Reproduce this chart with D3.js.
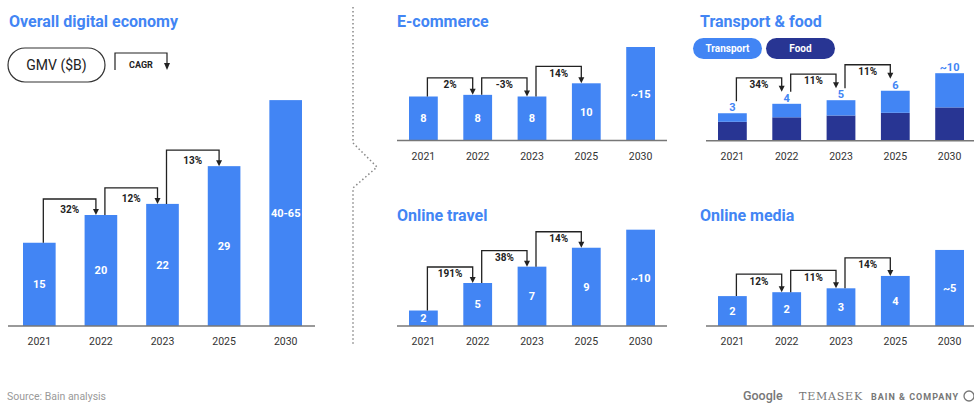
<!DOCTYPE html>
<html>
<head>
<meta charset="utf-8">
<script src="https://cdn.jsdelivr.net/npm/d3@7"></script>
<style>
  body { margin: 0; background: #fff; }
  svg { display: block; font-family: Roboto, "Open Sans", sans-serif; }
</style>
</head>
<body>
<svg id="chart" width="974" height="405"></svg>
<script>
// data (bar heights)
const years = ["2021", "2022", "2023", "2025", "2030"];

const overallValues = [15, 20, 22, 28.8, 40.7];
const overallLabels = ["15", "20", "22", "29", "40-65"];
const overallCagr = ["32%", "12%", "13%"];

const ecomValues = [8.0, 8.3, 8.0, 10.4, 17.0];
const ecomLabels = ["8", "8", "8", "10", "~15"];
const ecomCagr = ["2%", "-3%", "14%"];

const foodValues = [2.1, 2.6, 2.8, 3.1, 3.7];
const transportValues = [0.95, 1.5, 1.7, 2.45, 3.8];
const transportFoodLabels = ["3", "4", "5", "6", "~10"];
const transportFoodCagr = ["34%", "11%", "11%"];

const travelValues = [1.8, 5.0, 6.9, 9.1, 11.2];
const travelLabels = ["2", "5", "7", "9", "~10"];
const travelCagr = ["191%", "38%", "14%"];

const mediaValues = [2.3, 2.6, 2.9, 3.85, 5.85];
const mediaLabels = ["2", "2", "3", "4", "~5"];
const mediaCagr = ["12%", "11%", "14%"];

const blue = "#4285f4", navy = "#283593", ink = "#222";

const svg = d3.select("#chart");

function drawPanel(c) {
  const g = svg.append("g");

  const x = d3.scaleBand().domain(years).range([c.x0, c.x1])
      .paddingInner(0.47).paddingOuter(0);
  const y = d3.scaleLinear().domain([0, c.max]).range([c.base, c.top]);

  g.append("text")
      .attr("x", c.titleX).attr("y", c.titleY)
      .attr("fill", blue).attr("font-size", 16).attr("font-weight", 700)
      .text(c.title);

  let totals;
  if (c.stack) {
    const rows = years.map((yr, i) => ({year: yr, food: foodValues[i], transport: transportValues[i]}));
    const series = d3.stack().keys(["food", "transport"])(rows);
    g.selectAll("g.layer").data(series).join("g")
        .attr("fill", d => d.key === "food" ? navy : blue)
      .selectAll("rect").data(d => d).join("rect")
        .attr("x", d => x(d.data.year))
        .attr("y", d => y(d[1]))
        .attr("width", x.bandwidth())
        .attr("height", d => y(d[0]) - y(d[1]));
    totals = rows.map(r => r.food + r.transport);

    g.selectAll("text.top").data(years).join("text")
        .attr("x", d => x(d) + x.bandwidth() / 2)
        .attr("y", (d, i) => y(totals[i]) - 2)
        .attr("text-anchor", "middle")
        .attr("fill", blue).attr("font-size", 11).attr("font-weight", 700)
        .text((d, i) => c.labels[i]);
  } else {
    totals = c.values;
    g.selectAll("rect").data(years).join("rect")
        .attr("x", d => x(d))
        .attr("y", (d, i) => y(c.values[i]))
        .attr("width", x.bandwidth())
        .attr("height", (d, i) => y(0) - y(c.values[i]))
        .attr("fill", blue);

    g.selectAll("text.val").data(years).join("text")
        .attr("x", d => x(d) + x.bandwidth() / 2)
        .attr("y", (d, i) => (y(c.values[i]) + y(0)) / 2)
        .attr("dy", "0.35em")
        .attr("text-anchor", "middle")
        .attr("fill", "#fff").attr("font-size", 11).attr("font-weight", 700)
        .text((d, i) => c.labels[i]);
  }

  // baseline
  g.append("line")
      .attr("x1", c.axisX0).attr("x2", c.axisX1)
      .attr("y1", y(0)).attr("y2", y(0))
      .attr("stroke", "#777").attr("stroke-width", 1.5);

  const axis = g.append("g")
      .attr("transform", `translate(0,${y(0)})`)
      .call(d3.axisBottom(x).tickSize(0).tickPadding(12));
  axis.select(".domain").remove();
  axis.selectAll("text")
      .attr("font-family", "Roboto, sans-serif")
      .attr("font-size", 10.5).attr("fill", "#333");

  // CAGR connectors
  for (let i = 0; i < c.cagr.length; i++) {
    const a = years[i], b = years[i + 1];
    const sx = x(a) + x.bandwidth() / 2 + 4;
    const ex = x(b) + x.bandwidth() / 2 - 5;
    const sy = y(totals[i]) - c.gap;
    const ey = y(totals[i + 1]) - c.gap;
    const hy = Math.min(y(totals[i]), y(totals[i + 1])) - c.rise;
    g.append("path")
        .attr("d", `M${sx},${sy}V${hy}H${ex}V${ey - 5}`)
        .attr("fill", "none").attr("stroke", ink).attr("stroke-width", 1.3);
    g.append("path")
        .attr("d", `M${ex - 3},${ey - 6}L${ex + 3},${ey - 6}L${ex},${ey}Z`)
        .attr("fill", ink);
    g.append("text")
        .attr("x", (sx + ex) / 2).attr("y", hy + c.labelDy)
        .attr("text-anchor", "middle")
        .attr("fill", ink).attr("font-size", 10).attr("font-weight", 700)
        .text(c.cagr[i]);
  }
}

drawPanel({title: "Overall digital economy", titleX: 9, titleY: 27,
  values: overallValues, labels: overallLabels, cagr: overallCagr,
  x0: 23, x1: 302, base: 326, max: 45, top: 326 - 45 * 5.55,
  axisX0: 8, axisX1: 315, rise: 16, gap: 0, labelDy: 14});

drawPanel({title: "E-commerce", titleX: 397, titleY: 27,
  values: ecomValues, labels: ecomLabels, cagr: ecomCagr,
  x0: 409, x1: 655, base: 140.5, max: 20, top: 140.5 - 20 * 5.5,
  axisX0: 397, axisX1: 667, rise: 17, gap: 0, labelDy: 10.5});

drawPanel({title: "Transport & food", titleX: 700, titleY: 27, stack: true,
  labels: transportFoodLabels, cagr: transportFoodCagr,
  x0: 718, x1: 964, base: 140.7, max: 10, top: 140.7 - 10 * 9,
  axisX0: 706, axisX1: 974, rise: 26, gap: 12, labelDy: 10});

drawPanel({title: "Online travel", titleX: 397, titleY: 220.5,
  values: travelValues, labels: travelLabels, cagr: travelCagr,
  x0: 409, x1: 655, base: 326, max: 12, top: 326 - 12 * 8.6,
  axisX0: 397, axisX1: 667, rise: 16, gap: 0, labelDy: 10});

drawPanel({title: "Online media", titleX: 700, titleY: 220.5,
  values: mediaValues, labels: mediaLabels, cagr: mediaCagr,
  x0: 718, x1: 964, base: 326, max: 8, top: 326 - 8 * 13,
  axisX0: 706, axisX1: 974, rise: 18, gap: 0, labelDy: 10.5});

// GMV pill and CAGR key
svg.append("rect").attr("x", 8).attr("y", 48).attr("width", 97).attr("height", 34)
    .attr("rx", 17).attr("fill", "#fff").attr("stroke", "#333").attr("stroke-width", 1.2);
svg.append("text").attr("x", 56.5).attr("y", 65).attr("dy", "0.35em")
    .attr("text-anchor", "middle").attr("font-size", 14).attr("fill", ink).text("GMV ($B)");
svg.append("path").attr("d", "M115,70V53H167V64").attr("fill", "none")
    .attr("stroke", ink).attr("stroke-width", 1.2);
svg.append("path").attr("d", "M164,63L170,63L167,70Z").attr("fill", ink);
svg.append("text").attr("x", 141).attr("y", 65).attr("dy", "0.35em")
    .attr("text-anchor", "middle").attr("font-size", 9).attr("font-weight", 700)
    .attr("fill", ink).text("CAGR");

// legend pills
const legend = [{name: "Transport", color: blue, x: 693, w: 69}, {name: "Food", color: navy, x: 766, w: 69}];
legend.forEach(l => {
  svg.append("rect").attr("x", l.x).attr("y", 38).attr("width", l.w).attr("height", 21)
      .attr("rx", 10.5).attr("fill", l.color);
  svg.append("text").attr("x", l.x + l.w / 2).attr("y", 48.5).attr("dy", "0.35em")
      .attr("text-anchor", "middle").attr("fill", "#fff").attr("font-size", 10)
      .attr("font-weight", 700).text(l.name);
});

// dotted divider
svg.append("path").attr("d", "M353,7V143L377,167L353,188V345")
    .attr("fill", "none").attr("stroke", "#888").attr("stroke-width", 1.5)
    .attr("stroke-dasharray", "1.5,2.5");

// footer
svg.append("text").attr("x", 7).attr("y", 400).attr("font-size", 10.5)
    .attr("fill", "#999").text("Source: Bain analysis");
svg.append("text").attr("x", 743).attr("y", 400).attr("font-size", 12.5)
    .attr("font-weight", 500).attr("fill", "#777").text("Google");
svg.append("text").attr("x", 799).attr("y", 400).attr("font-size", 11)
    .attr("font-family", "'DejaVu Serif', serif").attr("letter-spacing", 0.8)
    .attr("fill", "#777").text("TEMASEK");
svg.append("text").attr("x", 871).attr("y", 399.5).attr("font-size", 9)
    .attr("font-weight", 700).attr("letter-spacing", 1)
    .attr("fill", "#777").text("BAIN & COMPANY");
svg.append("circle").attr("cx", 969).attr("cy", 396).attr("r", 5)
    .attr("fill", "none").attr("stroke", "#777").attr("stroke-width", 1.3);
</script>
</body>
</html>
